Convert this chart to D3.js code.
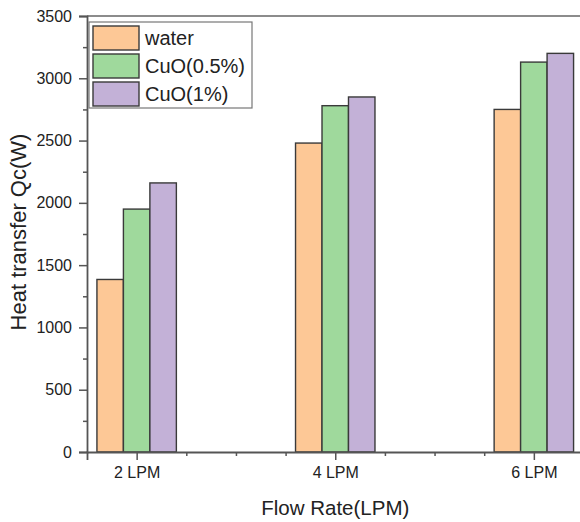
<!DOCTYPE html>
<html>
<head>
<meta charset="utf-8">
<script src="https://cdn.jsdelivr.net/npm/d3@7"></script>
<style>
  body { margin: 0; background: #fff; }
  text { font-family: "Liberation Sans", Arial, sans-serif; }
</style>
</head>
<body>
<script>
// chart data
var flowRates = [2, 4, 6];
var tickLabels = ["2 LPM", "4 LPM", "6 LPM"];
var seriesNames = ["water", "CuO(0.5%)", "CuO(1%)"];
var water = [1385, 2480, 2750];
var cuo05 = [1950, 2780, 3130];
var cuo1 = [2160, 2850, 3200];
var colors = ["#fdc896", "#9fd99c", "#c3b1d7"];

var W = 580, H = 522;
var margin = {top: 16, left: 87, bottom: 70};
var plotBottom = H - margin.bottom; // 452

const svg = d3.select("body").append("svg")
  .attr("width", W)
  .attr("height", H);

// x is numeric, axis runs 1.5..6.5 (right part is off the picture)
var x = d3.scaleLinear()
  .domain([1.5, 6.5])
  .range([margin.left, margin.left + 5 * 99.3]);

var y = d3.scaleLinear()
  .domain([0, 3500])
  .range([plotBottom, margin.top]);

var series = [water, cuo05, cuo1];
var sub = d3.scaleBand()
  .domain(d3.range(3))
  .range([0, x(2.8) - x(2)]);

// bars
series.forEach(function(vals, s) {
  svg.append("g").selectAll("rect")
    .data(vals)
    .enter()
    .append("rect")
      .attr("x", function(d, i) { return x(flowRates[i] - 0.4) + sub(s); })
      .attr("y", function(d) { return y(d); })
      .attr("width", sub.bandwidth())
      .attr("height", function(d) { return y(0) - y(d); })
      .attr("fill", colors[s])
      .attr("stroke", "#3a3a3a")
      .attr("stroke-width", 1.4);
});

// frame top line
svg.append("line")
  .attr("x1", x(1.5)).attr("x2", x(6.5))
  .attr("y1", y(3500)).attr("y2", y(3500))
  .attr("stroke", "#666").attr("stroke-width", 1.5);

// Y axis
svg.append("g")
  .attr("transform", "translate(" + margin.left + ",0)")
  .call(d3.axisLeft(y).tickValues(d3.range(0, 3501, 500)).tickSize(8).tickPadding(7)
    .tickFormat(d3.format("d")));
svg.append("g")
  .attr("transform", "translate(" + margin.left + ",0)")
  .call(d3.axisLeft(y).tickValues(d3.range(250, 3500, 500)).tickSize(4).tickFormat(""))
  .select(".domain").remove();

// X axis
svg.append("g")
  .attr("transform", "translate(0," + plotBottom + ")")
  .call(d3.axisBottom(x).tickValues(flowRates).tickSize(8).tickPadding(7)
    .tickFormat(function(d, i) { return tickLabels[i]; }));
svg.append("g")
  .attr("transform", "translate(0," + plotBottom + ")")
  .call(d3.axisBottom(x).tickValues([2.5, 3, 3.5, 4.5, 5, 5.5]).tickSize(4).tickFormat(""))
  .select(".domain").remove();

svg.selectAll(".domain").attr("stroke", "#555").attr("stroke-width", 1.8);
svg.selectAll(".tick line").attr("stroke", "#555").attr("stroke-width", 1.5);
svg.selectAll(".tick text").attr("fill", "#222").style("font-size", "16px")
  .style("font-family", "Liberation Sans, Arial, sans-serif");

// axis titles
svg.append("text")
  .attr("x", x(4))
  .attr("y", 515)
  .attr("text-anchor", "middle")
  .attr("fill", "#222")
  .style("font-size", "20.5px")
  .text("Flow Rate(LPM)");

svg.append("text")
  .attr("transform", "translate(26,232) rotate(-90)")
  .attr("text-anchor", "middle")
  .attr("fill", "#222")
  .style("font-size", "22px")
  .text("Heat transfer Qc(W)");

// legend
var legend = svg.append("g").attr("transform", "translate(89,22)");
legend.append("rect")
  .attr("width", 163).attr("height", 86)
  .attr("fill", "#fff").attr("stroke", "#777").attr("stroke-width", 1.2);
seriesNames.forEach(function(name, i) {
  legend.append("rect")
    .attr("x", 4).attr("y", 4 + i * 28)
    .attr("width", 46).attr("height", 24)
    .attr("fill", colors[i]).attr("stroke", "#3a3a3a").attr("stroke-width", 1.4);
  legend.append("text")
    .attr("x", 56).attr("y", 23 + i * 28)
    .attr("fill", "#222")
    .style("font-size", "20px")
    .text(name);
});
</script>
</body>
</html>
